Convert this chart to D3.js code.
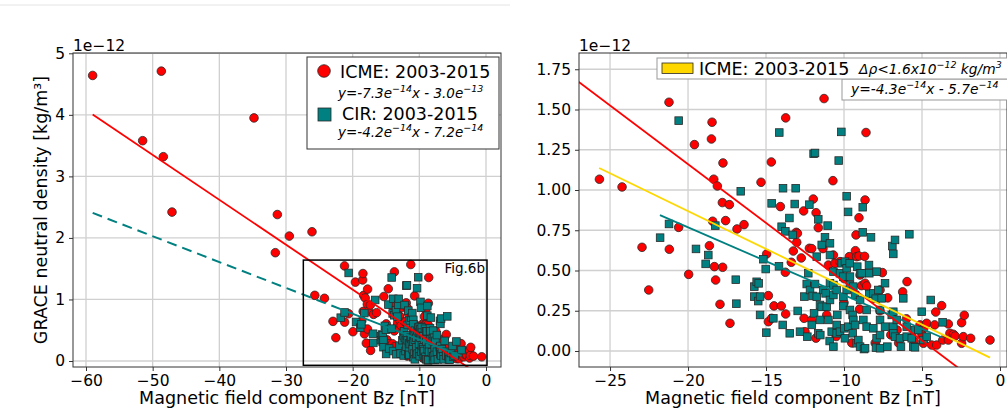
<!DOCTYPE html>
<html>
<head>
<meta charset="utf-8">
<script src="https://cdn.jsdelivr.net/npm/d3@7"></script>
<style>
  body { margin: 0; background: #fff; }
  svg text { font-family: "DejaVu Sans", sans-serif; fill: #000; }
</style>
</head>
<body>
<svg id="chart" width="1007" height="417"></svg>
<script>
// Data: [Bz (nT), density (1e-12 kg/m3)]
var icmePoints = [
  [-59.0,4.64],[-48.7,4.71],[-51.5,3.58],[-48.4,3.32],[-47.1,2.42],[-34.8,3.95],[-31.3,2.38],[-31.6,1.76],[-29.5,2.03],[-26.1,2.10],
  [-25.68,1.067],[-24.23,1.019],[-22.95,0.644],[-22.52,0.379],[-21.22,1.545],[-21.20,0.632],[-20.60,0.768],[-19.96,0.476],
  [-19.59,1.282],[-18.63,0.654],[-18.50,1.317],[-18.46,1.421],[-18.42,0.806],[-18.35,1.067],[-18.31,0.524],[-18.23,0.441],
  [-18.12,1.025],[-17.95,0.290],[-17.80,0.922],[-17.78,0.520],[-17.76,1.168],[-17.59,0.810],[-17.35,0.909],[-17.31,0.172],
  [-16.86,0.758],[-16.41,0.785],[-15.32,1.048],[-14.96,0.603],[-14.85,0.344],[-14.85,0.182],[-14.66,1.174],[-14.64,0.203],
  [-14.49,0.280],[-14.08,0.897],[-14.02,0.280],[-13.76,0.489],[-13.74,1.448],[-13.74,0.230],[-13.38,0.551],[-13.25,0.621],
  [-13.06,0.737],[-13.03,0.675],[-12.99,0.731],[-12.74,0.578],[-12.59,0.870],[-12.56,0.203],[-12.22,0.638],[-12.18,0.410],
  [-12.07,0.636],[-12.07,0.193],[-11.97,0.944],[-11.79,0.859],[-11.65,0.766],[-11.35,0.636],[-11.28,1.568],[-11.11,0.224],
  [-11.00,0.534],[-10.71,1.058],[-10.68,0.596],[-10.58,0.545],[-10.26,0.555],[-9.66,0.586],[-9.27,0.623],[-9.23,0.721],
  [-9.19,0.586],[-9.04,0.828],[-9.04,0.590],[-8.97,0.472],[-8.87,0.406],[-8.68,0.588],[-8.65,0.938],[-8.65,0.421],
  [-8.59,1.357],[-8.55,0.404],[-7.69,0.379],[-7.54,0.487],[-6.24,0.367],[-5.96,0.431],[-5.13,0.162],[-4.91,0.048],
  [-4.89,0.141],[-4.70,0.172],[-4.38,0.037],[-4.19,0.162],[-4.12,0.242],[-4.06,0.037],[-3.74,0.282],[-3.67,0.068],
  [-3.31,0.168],[-3.31,0.068],[-3.21,0.110],[-2.99,0.104],[-2.88,0.093],[-2.46,0.176],[-2.46,0.048],[-2.35,0.089],
  [-2.29,0.222],[-1.88,0.079],[-0.64,0.068],
  [-12.5,0.12],[-11.8,0.08],[-10.5,0.09],[-10.0,0.30],[-10.0,0.45],[-9.5,0.05],[-9.0,0.26],[-8.0,0.05],
  [-7.7,0.25],[-7.2,0.33],[-7.0,0.10],[-6.6,0.13],[-6.5,0.05],[-6.0,0.20],[-5.5,0.06],[-5.0,0.10]
];

var cirPoints = [
  [-21.79,0.704],[-21.22,0.789],[-20.60,1.431],[-19.49,0.634],[-18.87,0.541],[-18.70,0.596],[-18.25,0.779],[-16.94,0.443],
  [-16.90,0.294],[-16.62,0.992],[-15.75,0.400],[-15.75,0.338],[-15.60,0.430],[-15.50,0.310],[-15.47,0.420],[-15.38,0.338],
  [-15.38,0.224],[-15.17,0.570],[-15.02,0.509],[-14.98,0.114],[-14.64,0.917],[-14.53,0.203],[-14.17,0.526],[-14.15,1.357],
  [-14.00,0.772],[-13.93,0.162],[-13.91,1.011],[-13.76,0.743],[-13.50,0.826],[-13.48,0.110],[-13.29,0.721],[-13.16,0.913],
  [-13.10,1.011],[-12.97,0.249],[-12.82,0.120],[-12.54,0.338],[-12.39,0.416],[-12.35,0.089],[-12.29,0.483],[-12.22,0.909],
  [-12.18,0.379],[-12.07,0.162],[-12.01,0.342],[-11.95,1.225],[-11.92,0.234],[-11.86,1.230],[-11.86,0.416],[-11.75,0.586],
  [-11.75,0.337],[-11.65,0.818],[-11.65,0.110],[-11.54,0.286],[-11.54,0.193],[-11.52,0.099],[-11.43,0.659],[-11.43,0.275],
  [-11.33,0.379],[-11.22,0.706],[-11.18,0.358],[-11.11,0.275],[-11.05,0.779],[-11.00,0.193],[-10.92,0.062],[-10.90,0.669],
  [-10.90,0.596],[-10.90,0.421],[-10.90,0.317],[-10.79,0.120],[-10.68,0.493],[-10.68,0.410],[-10.68,0.348],[-10.68,0.027],
  [-10.47,0.379],[-10.47,0.162],[-10.47,0.110],[-10.43,0.224],[-10.34,1.183],[-10.26,0.483],[-10.26,0.120],[-10.17,1.361],
  [-10.15,0.545],[-10.04,0.462],[-10.04,0.337],[-10.04,0.280],[-9.98,0.141],[-9.94,0.555],[-9.94,0.079],[-9.83,0.961],
  [-9.83,0.514],[-9.83,0.379],[-9.74,0.864],[-9.72,0.151],[-9.64,0.545],[-9.62,0.462],[-9.62,0.410],[-9.62,0.255],
  [-9.45,0.224],[-9.44,0.110],[-9.40,0.400],[-9.40,0.193],[-9.29,0.348],[-9.29,0.162],[-9.19,0.048],[-9.15,0.524],
  [-9.08,0.068],[-8.97,0.483],[-8.97,0.317],[-8.97,0.027],[-8.87,0.483],[-8.80,0.893],[-8.80,0.737],[-8.76,0.193],
  [-8.72,0.012],[-8.65,0.017],[-8.55,0.255],[-8.55,0.151],[-8.40,0.534],[-8.38,0.483],[-8.38,0.354],[-8.27,0.706],
  [-8.12,0.358],[-8.12,0.141],[-7.97,0.325],[-7.95,0.021],[-7.91,0.493],[-7.91,0.079],[-7.80,0.379],[-7.69,0.255],
  [-7.69,0.193],[-7.69,0.099],[-7.69,0.017],[-7.59,0.327],[-7.37,0.421],[-7.37,0.151],[-7.22,0.027],[-6.94,0.224],
  [-6.90,0.652],[-6.84,0.603],[-6.84,0.244],[-6.84,0.151],[-6.84,0.110],[-6.73,0.690],[-6.73,0.089],[-6.62,0.193],
  [-6.41,0.079],[-6.35,0.027],[-6.20,0.327],[-5.98,0.151],[-5.98,0.089],[-5.81,0.725],[-5.66,0.079],[-5.56,0.027],
  [-5.45,0.130],[-5.45,0.023],[-5.24,0.130],[-5.02,0.244],[-4.91,0.068],[-4.70,0.089],[-4.44,0.317],[-3.68,0.178]
];

// linear fits (density in 1e-12 kg/m3), ranges in nT
var icmeFit = { slope: -0.073, intercept: -0.300, from: -59.0, to: -0.64 };
var cirFit = { slope: -0.042, intercept: -0.072, from: -21.8, to: -3.68, extrapFrom: -59.0 };
var icmeLowFit = { slope: -0.047, intercept: -0.071, from: -25.7, to: -0.64 };

// tick values
var leftXTicks = [-60, -50, -40, -30, -20, -10, 0];
var leftYTicks = [0, 1, 2, 3, 4, 5];
var rightXTicks = [-25, -20, -15, -10, -5, 0];
var rightYTicks = [0, 0.25, 0.5, 0.75, 1.0, 1.25, 1.5, 1.75];

// zoom box on the left panel (Fig.6b)
var insetBz = [-27.4, 0.15];
var insetRho = [-0.07, 1.64];

var svg = d3.select("#chart");
var tickFont = 15.5;
var labelFont = 17.5;

// faint rule across the top of the left figure
svg.append("line")
  .attr("x1", 0).attr("x2", 510).attr("y1", 5).attr("y2", 5)
  .style("stroke", "#e4e4e4").style("stroke-width", 1);

function drawPanel(p) {
  var x = d3.scaleLinear().domain(p.xDomain).range([p.left, p.right]);
  var y = d3.scaleLinear().domain(p.yDomain).range([p.bottom, p.top]);
  var g = svg.append("g");

  svg.append("clipPath").attr("id", "clip-" + p.name)
    .append("rect")
    .attr("x", p.left).attr("y", p.top)
    .attr("width", p.right - p.left).attr("height", p.bottom - p.top);

  // grid
  g.selectAll(".gx").data(p.xTicks).enter().append("line")
    .attr("x1", function(d) { return x(d); }).attr("x2", function(d) { return x(d); })
    .attr("y1", p.top).attr("y2", p.bottom)
    .style("stroke", "#d0d0d0").style("stroke-width", 1.3);
  g.selectAll(".gy").data(p.yTicks).enter().append("line")
    .attr("x1", p.left).attr("x2", p.right)
    .attr("y1", function(d) { return y(d); }).attr("y2", function(d) { return y(d); })
    .style("stroke", "#d0d0d0").style("stroke-width", 1.3);

  // axes
  var xAxis = g.append("g").attr("transform", "translate(0," + p.bottom + ")")
    .call(d3.axisBottom(x).tickValues(p.xTicks).tickSize(4).tickPadding(4).tickFormat(d3.format("d")));
  var yAxis = g.append("g").attr("transform", "translate(" + p.left + ",0)")
    .call(d3.axisLeft(y).tickValues(p.yTicks).tickSize(4).tickPadding(4).tickFormat(p.yFormat));
  [xAxis, yAxis].forEach(function(a) {
    a.select(".domain").remove();
    a.attr("font-size", tickFont).attr("font-family", "DejaVu Sans");
    a.selectAll("line").style("stroke", "#333");
  });

  var plot = g.append("g").attr("clip-path", "url(#clip-" + p.name + ")");

  // ICME circles
  plot.selectAll(".icme").data(icmePoints).enter().append("circle")
    .attr("cx", function(d) { return x(d[0]); })
    .attr("cy", function(d) { return y(d[1]); })
    .attr("r", 4.3)
    .style("fill", "#ff0000").style("stroke", "#2a2a2a").style("stroke-width", 0.8);

  // CIR squares
  plot.selectAll(".cir").data(cirPoints).enter().append("rect")
    .attr("x", function(d) { return x(d[0]) - 3.8; })
    .attr("y", function(d) { return y(d[1]) - 3.8; })
    .attr("width", 7.6).attr("height", 7.6)
    .style("fill", "#008080").style("stroke", "#2a2a2a").style("stroke-width", 0.8);

  var line = d3.line().x(function(d) { return x(d[0]); }).y(function(d) { return y(d[1]); });
  function fitSegment(f, a, b) {
    return [[a, f.slope * a + f.intercept], [b, f.slope * b + f.intercept]];
  }

  return { x: x, y: y, g: g, plot: plot, line: line, seg: fitSegment };
}

function frame(p) {
  svg.append("rect")
    .attr("x", p.left).attr("y", p.top)
    .attr("width", p.right - p.left).attr("height", p.bottom - p.top)
    .style("fill", "none").style("stroke", "#333").style("stroke-width", 1);
  svg.append("text")
    .attr("x", p.left).attr("y", p.top - 2.5)
    .attr("font-size", tickFont)
    .text("1e\u221212");
  svg.append("text")
    .attr("x", (p.left + p.right) / 2).attr("y", 404)
    .attr("text-anchor", "middle")
    .attr("font-size", labelFont)
    .text("Magnetic field component Bz [nT]");
}

// italic text with raised exponents: parts alternate normal / superscript
function supText(parent, x, y, size, supSize, parts) {
  var t = parent.append("text").attr("x", x).attr("y", y)
    .attr("font-size", size).attr("font-style", "italic");
  parts.forEach(function(s, i) {
    var sp = t.append("tspan").text(s);
    if (i % 2 === 1) {
      sp.attr("font-size", supSize).attr("dy", -size * 0.42);
    } else if (i > 0) {
      sp.attr("dy", size * 0.42);
    }
  });
  return t;
}

// ---------- left panel ----------
var leftP = {
  name: "left", left: 73, right: 501, top: 53, bottom: 367,
  xDomain: [-61.95, 2.25], yDomain: [-0.0975, 5.005],
  xTicks: leftXTicks, yTicks: leftYTicks, yFormat: d3.format("d")
};
var L = drawPanel(leftP);

L.plot.append("path").datum(L.seg(icmeFit, icmeFit.from, icmeFit.to)).attr("d", L.line)
  .style("fill", "none").style("stroke", "#ff0000").style("stroke-width", 1.8);
L.plot.append("path").datum(L.seg(cirFit, cirFit.extrapFrom, cirFit.from)).attr("d", L.line)
  .style("fill", "none").style("stroke", "#008080").style("stroke-width", 2)
  .style("stroke-dasharray", "10,6");
L.plot.append("path").datum(L.seg(cirFit, cirFit.from, cirFit.to)).attr("d", L.line)
  .style("fill", "none").style("stroke", "#008080").style("stroke-width", 1.8);

// Fig.6b box
L.g.append("rect")
  .attr("x", L.x(insetBz[0])).attr("y", L.y(insetRho[1]))
  .attr("width", L.x(insetBz[1]) - L.x(insetBz[0]))
  .attr("height", L.y(insetRho[0]) - L.y(insetRho[1]))
  .style("fill", "none").style("stroke", "#000").style("stroke-width", 1.5);
L.g.append("text")
  .attr("x", L.x(insetBz[1]) - 2).attr("y", L.y(insetRho[1]) + 13)
  .attr("text-anchor", "end").attr("font-size", 13.5)
  .text("Fig.6b");

frame(leftP);

svg.append("text")
  .attr("transform", "translate(47,210) rotate(-90)")
  .attr("text-anchor", "middle")
  .attr("font-size", labelFont)
  .text("GRACE neutral density [kg/m\u00b3]");

// left legend
var lg = svg.append("g");
lg.append("rect").attr("x", 307).attr("y", 57).attr("width", 192).attr("height", 92)
  .style("fill", "#fff").style("stroke", "#333").style("stroke-width", 1);
lg.append("circle").attr("cx", 324).attr("cy", 71).attr("r", 6.3)
  .style("fill", "#ff0000").style("stroke", "#2a2a2a").style("stroke-width", 0.8);
lg.append("text").attr("x", 340).attr("y", 77.5).attr("font-size", labelFont).text("ICME: 2003-2015");
supText(lg, 338, 97.5, 13.5, 9.5, ["y=-7.3e", "\u221214", "x - 3.0e", "\u221213"]);
lg.append("rect").attr("x", 318).attr("y", 108).attr("width", 13).attr("height", 13)
  .style("fill", "#008080").style("stroke", "#2a2a2a").style("stroke-width", 0.8);
lg.append("text").attr("x", 342).attr("y", 120).attr("font-size", labelFont).text("CIR: 2003-2015");
supText(lg, 338, 137, 13.5, 9.5, ["y=-4.2e", "\u221214", "x - 7.2e", "\u221214"]);

// ---------- right panel ----------
var rightP = {
  name: "right", left: 579, right: 1007, top: 53, bottom: 367,
  xDomain: [-26.99, 0.449], yDomain: [-0.0994, 1.851],
  xTicks: rightXTicks, yTicks: rightYTicks, yFormat: d3.format(".2f")
};
var R = drawPanel(rightP);

R.plot.append("path").datum(R.seg(icmeFit, icmeFit.from, icmeFit.to)).attr("d", R.line)
  .style("fill", "none").style("stroke", "#ff0000").style("stroke-width", 1.8);
R.plot.append("path").datum(R.seg(cirFit, cirFit.from, cirFit.to)).attr("d", R.line)
  .style("fill", "none").style("stroke", "#008080").style("stroke-width", 1.8);
R.plot.append("path").datum(R.seg(icmeLowFit, icmeLowFit.from, icmeLowFit.to)).attr("d", R.line)
  .style("fill", "none").style("stroke", "#ffd700").style("stroke-width", 1.8);

frame(rightP);

// right legend
var rg = svg.append("g");
rg.append("rect").attr("x", 842).attr("y", 79).attr("width", 170).attr("height", 21)
  .style("fill", "#fff").style("stroke", "#999").style("stroke-width", 1);
rg.append("rect").attr("x", 657).attr("y", 58).attr("width", 360).attr("height", 21)
  .style("fill", "#fff").style("stroke", "#999").style("stroke-width", 1);
rg.append("rect").attr("x", 662).attr("y", 63).attr("width", 31).attr("height", 10.5)
  .style("fill", "#ffd700").style("stroke", "#2a2a2a").style("stroke-width", 0.8);
rg.append("text").attr("x", 699).attr("y", 74.5).attr("font-size", labelFont).text("ICME: 2003-2015");
supText(rg, 859, 73.5, 13.8, 9.5, ["\u0394\u03c1<1.6x10", "\u221212", " kg/m", "3"]);
supText(rg, 851, 94, 13.8, 9.5, ["y=-4.3e", "\u221214", "x - 5.7e", "\u221214"]);
</script>
</body>
</html>
